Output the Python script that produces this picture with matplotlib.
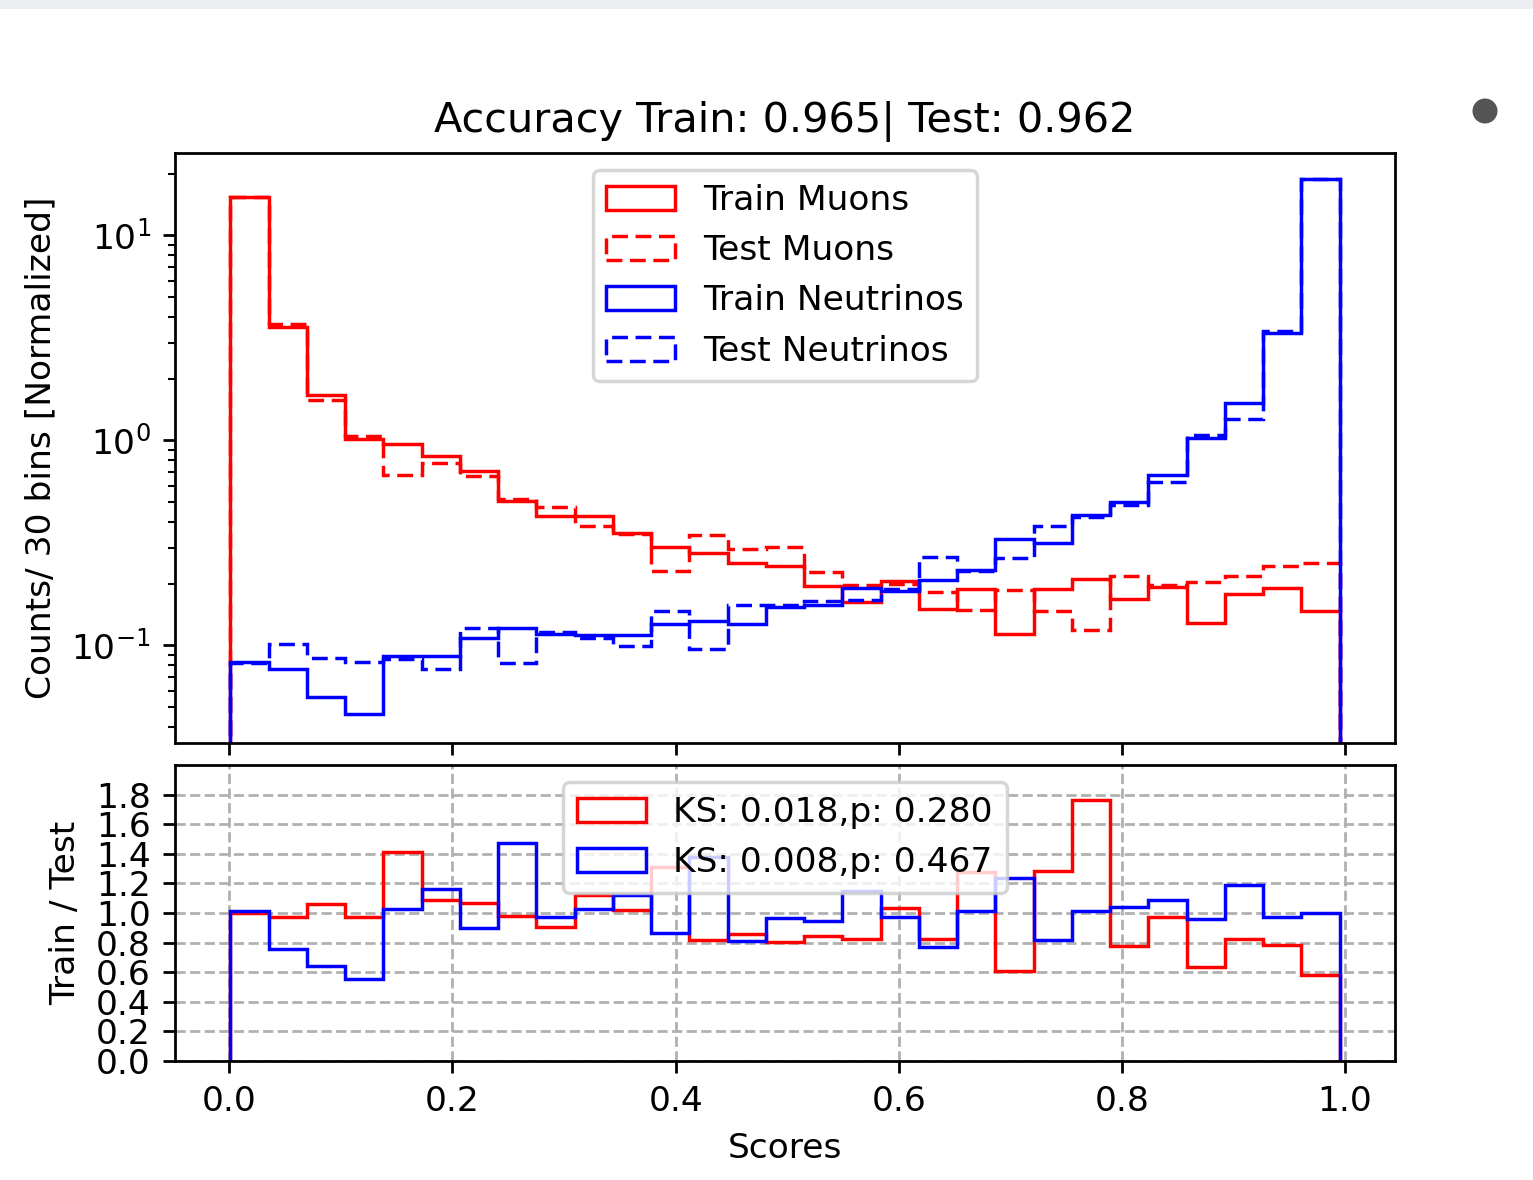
import numpy as np
import matplotlib
matplotlib.use("Agg")
import matplotlib.pyplot as plt
from matplotlib.patches import Rectangle, Ellipse

# Score binning: 29 equal bins between the lowest and highest score
score_min = 0.001
score_max = 0.995
n_edges = 30

# Normalised counts per bin
train_muons = [15.4, 3.57, 1.67, 1.02, 0.958, 0.842, 0.710, 0.508, 0.428, 0.428,
               0.355, 0.302, 0.281, 0.2535, 0.243, 0.194, 0.163, 0.206, 0.150, 0.189,
               0.113, 0.189, 0.210, 0.168, 0.193, 0.1286, 0.179, 0.191, 0.147]
test_muons = [15.4, 3.68, 1.575, 1.05, 0.679, 0.775, 0.667, 0.520, 0.471, 0.381,
              0.349, 0.2305, 0.345, 0.296, 0.301, 0.229, 0.1975, 0.199, 0.182, 0.148,
              0.186, 0.147, 0.1193, 0.217, 0.198, 0.203, 0.217, 0.243, 0.2526]
train_neutrinos = [0.0832, 0.0770, 0.0561, 0.0461, 0.0887, 0.0887, 0.1085, 0.1213, 0.113, 0.112,
                   0.112, 0.127, 0.1316, 0.127, 0.153, 0.157, 0.1907, 0.184, 0.208, 0.2344,
                   0.3295, 0.314, 0.4315, 0.501, 0.681, 1.021, 1.513, 3.32, 18.9]
test_neutrinos = [0.082, 0.1016, 0.087, 0.083, 0.0861, 0.0765, 0.121, 0.0824, 0.1158, 0.1087,
                  0.0997, 0.147, 0.0955, 0.157, 0.158, 0.1654, 0.1665, 0.1885, 0.271, 0.231,
                  0.267, 0.384, 0.425, 0.482, 0.625, 1.063, 1.271, 3.42, 18.9]

acc_train = 0.965
acc_test = 0.962
ks_muons, p_muons = 0.018, 0.280
ks_neutrinos, p_neutrinos = 0.008, 0.467

edges = np.linspace(score_min, score_max, n_edges)
centers = 0.5 * (edges[:-1] + edges[1:])
ratio_muons = np.array(train_muons) / np.array(test_muons)
ratio_neutrinos = np.array(train_neutrinos) / np.array(test_neutrinos)

W, H, DPI = 1533, 1180, 248
fig = plt.figure(figsize=(W / DPI, H / DPI), dpi=DPI)

# light band along the top edge and a small marker at the right
fig.add_artist(Rectangle((0, 1 - 9 / H), 1, 9 / H, transform=fig.transFigure,
                         facecolor="#eceef1", edgecolor="none"))
fig.add_artist(Ellipse((1485 / W, 1 - 111 / H), 25 / W, 25 / H,
                       transform=fig.transFigure, facecolor="#555555", edgecolor="none"))

ax1 = fig.add_axes([175 / W, 1 - 743 / H, 1220 / W, 590 / H])
ax2 = fig.add_axes([175 / W, 1 - 1061 / H, 1220 / W, 296 / H], sharex=ax1)

dashed = (0, (4.6, 2.2))

ax1.set_yscale("log")
ax1.hist(centers, bins=edges, weights=train_muons, histtype="step",
         color="red", label="Train Muons")
ax1.hist(centers, bins=edges, weights=test_muons, histtype="step",
         color="red", linestyle=dashed, label="Test Muons")
ax1.hist(centers, bins=edges, weights=train_neutrinos, histtype="step",
         color="blue", label="Train Neutrinos")
ax1.hist(centers, bins=edges, weights=test_neutrinos, histtype="step",
         color="blue", linestyle=dashed, label="Test Neutrinos")
ax1.set_ylim(0.0334, 25.2)
ax1.set_ylabel("Counts/ 30 bins [Normalized]")
ax1.set_title(f"Accuracy Train: {acc_train:.3f}| Test: {acc_test:.3f}")
ax1.legend(loc="upper center")
ax1.tick_params(axis="x", labelbottom=False)

ax2.hist(centers, bins=edges, weights=ratio_muons, histtype="step", color="red",
         label=f"KS: {ks_muons:.3f},p: {p_muons:.3f}")
ax2.hist(centers, bins=edges, weights=ratio_neutrinos, histtype="step", color="blue",
         label=f"KS: {ks_neutrinos:.3f},p: {p_neutrinos:.3f}")
ax2.set_ylim(0, 2.0)
ax2.set_yticks(np.arange(0, 1.9, 0.2))
ax2.set_xticks(np.arange(0, 1.01, 0.2))
ax2.grid(True, linestyle="--")
ax2.set_ylabel("Train / Test")
ax2.set_xlabel("Scores")
ax2.legend(loc="upper center")

fig.savefig("out.png", dpi=DPI)
